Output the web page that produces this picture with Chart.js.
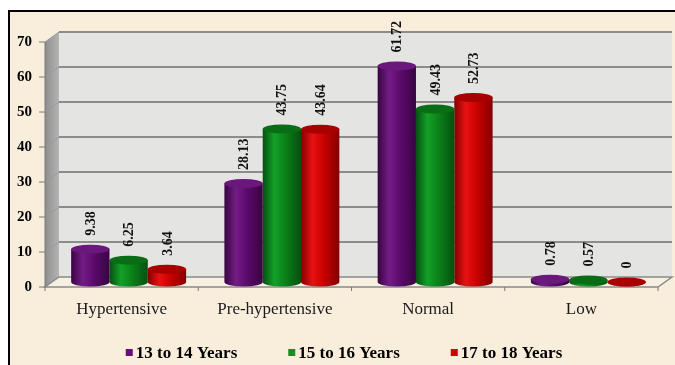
<!DOCTYPE html>
<html>
<head>
<meta charset="utf-8">
<script src="https://cdn.jsdelivr.net/npm/chart.js@4.4.1/dist/chart.umd.min.js"></script>
<style>
  html, body { margin: 0; padding: 0; background: #fff; }
  #wrap { width: 675px; height: 365px; }
</style>
</head>
<body>
<div id="wrap"><canvas id="bpChart" width="675" height="365"></canvas></div>
<script>
// categories and series
const categories = ['Hypertensive', 'Pre-hypertensive', 'Normal', 'Low'];
const seriesNames = ['13 to 14 Years', '15 to 16 Years', '17 to 18 Years'];
const age13to14 = [9.38, 28.13, 61.72, 0.78];
const age15to16 = [6.25, 43.75, 49.43, 0.57];
const age17to18 = [3.64, 43.64, 52.73, 0];

// colours: base, light, dark, top
const palettes = [
  { base: '#5a0a6a', light: '#741c86', dark: '#380442', top: '#6a187c', legend: '#6a0c7c' },
  { base: '#0a8018', light: '#14a028', dark: '#055010', top: '#0a6c14', legend: '#129024' },
  { base: '#c80000', light: '#e81212', dark: '#840000', top: '#a80000', legend: '#d20000' }
];

// 3D depth offset of the back wall
const DX = 14, DY = -10;

const ctx = document.getElementById('bpChart').getContext('2d');

// background, walls, floor and gridlines
const backdrop = {
  id: 'backdrop',
  beforeDraw(chart) {
    const c = chart.ctx, a = chart.chartArea, ys = chart.scales.y;
    const W = chart.width, H = chart.height;
    c.save();
    c.fillStyle = '#fff';
    c.fillRect(0, 0, W, H);
    c.fillStyle = '#f8eedb';
    c.fillRect(10, 12, W - 10, H - 12);
    c.strokeStyle = '#000';
    c.lineWidth = 2;
    c.beginPath();
    c.moveTo(9, H); c.lineTo(9, 11); c.lineTo(W, 11);
    c.stroke();

    // back wall
    c.fillStyle = '#e4e4e2';
    c.fillRect(a.left + DX, a.top + DY, a.right - a.left, a.bottom - a.top);

    // side wall
    const sg = c.createLinearGradient(a.left, 0, a.left + DX, 0);
    sg.addColorStop(0, '#8e8e8e');
    sg.addColorStop(1, '#b4b4b4');
    c.fillStyle = sg;
    c.beginPath();
    c.moveTo(a.left, a.top);
    c.lineTo(a.left + DX, a.top + DY);
    c.lineTo(a.left + DX, a.bottom + DY);
    c.lineTo(a.left, a.bottom);
    c.closePath();
    c.fill();

    // floor
    c.fillStyle = '#f7efdf';
    c.strokeStyle = '#8a8a8a';
    c.lineWidth = 1.5;
    c.beginPath();
    c.moveTo(a.left, a.bottom);
    c.lineTo(a.right, a.bottom);
    c.lineTo(a.right + DX, a.bottom + DY);
    c.lineTo(a.left + DX, a.bottom + DY);
    c.closePath();
    c.fill();
    c.stroke();

    // gridlines on the back wall
    ys.ticks.forEach(t => {
      if (t.value === 0) return;
      const py = ys.getPixelForValue(t.value);
      c.strokeStyle = '#8c8c8c';
      c.lineWidth = 2;
      c.beginPath();
      c.moveTo(a.left + DX, py + DY);
      c.lineTo(a.right + DX, py + DY);
      c.stroke();
      c.lineWidth = 1;
      c.strokeStyle = '#9a9a9a';
      c.beginPath();
      c.moveTo(a.left, py);
      c.lineTo(a.left + DX, py + DY);
      c.stroke();
    });

    // y axis line and ticks
    c.strokeStyle = '#7a7a7a';
    c.lineWidth = 1;
    c.beginPath();
    c.moveTo(a.left, a.top);
    c.lineTo(a.left, a.bottom);
    ys.ticks.forEach(t => {
      const py = ys.getPixelForValue(t.value);
      c.moveTo(a.left - 6, py);
      c.lineTo(a.left, py);
    });
    // x ticks at category boundaries
    const step = (a.right - a.left) / categories.length;
    for (let i = 0; i <= categories.length; i++) {
      const px = a.left + i * step;
      c.moveTo(px, a.bottom);
      c.lineTo(px, a.bottom + 4);
    }
    c.stroke();
    c.restore();
  }
};

function drawCylinder(c, cx, top, bottom, w, p) {
  const rx = w / 2, ry = 4.5;
  const g = c.createLinearGradient(cx - rx, 0, cx + rx, 0);
  g.addColorStop(0, p.dark);
  g.addColorStop(0.3, p.light);
  g.addColorStop(0.6, p.base);
  g.addColorStop(1, p.dark);
  c.fillStyle = g;
  c.beginPath();
  c.moveTo(cx - rx, top);
  c.lineTo(cx - rx, bottom);
  c.ellipse(cx, bottom, rx, ry, 0, Math.PI, 0, true);
  c.lineTo(cx + rx, top);
  c.closePath();
  c.fill();
  c.fillStyle = p.top;
  c.beginPath();
  c.ellipse(cx, top, rx, ry, 0, 0, Math.PI * 2);
  c.fill();
}

// draw each bar as a cylinder at half depth
const cylinders = {
  id: 'cylinders',
  beforeDatasetDraw(chart, args) {
    const c = chart.ctx;
    const p = palettes[args.index];
    c.save();
    args.meta.data.forEach(el => {
      const cx = el.x + DX / 2;
      drawCylinder(c, cx, el.y + DY / 2, el.base + DY / 2, el.width, p);
    });
    c.restore();
    return false;
  },
  afterDatasetsDraw(chart) {
    const c = chart.ctx;
    c.save();
    c.fillStyle = '#111';
    c.font = 'bold 14px "Liberation Serif"';
    c.textAlign = 'left';
    c.textBaseline = 'middle';
    chart.data.datasets.forEach((ds, i) => {
      chart.getDatasetMeta(i).data.forEach((el, j) => {
        const x = el.x + DX / 2 + 1;
        const y = el.y + DY / 2 - 4.5 - 9;
        c.save();
        c.translate(x, y);
        c.rotate(-Math.PI / 2);
        c.fillText(String(ds.data[j]), 0, 0);
        c.restore();
      });
    });
    c.restore();
  }
};

// legend along the bottom
const bottomLegend = {
  id: 'bottomLegend',
  afterDraw(chart) {
    const c = chart.ctx;
    c.save();
    c.font = 'bold 17px "Liberation Serif"';
    c.textBaseline = 'alphabetic';
    const box = 7, gapText = 3, gapItem = 51;
    const widths = chart.data.datasets.map(ds => c.measureText(ds.label).width);
    const total = widths.reduce((s, w) => s + box + gapText + w, 0) + gapItem * (widths.length - 1);
    let x = 344 - total / 2;
    const base = 358;
    chart.data.datasets.forEach((ds, i) => {
      c.fillStyle = palettes[i].legend;
      c.fillRect(x, base - 9, box, box);
      x += box + gapText;
      c.fillStyle = '#000';
      c.fillText(ds.label, x, base);
      x += widths[i] + gapItem;
    });
    c.restore();
  }
};

const bpChart = new Chart(ctx, {
  type: 'bar',
  data: {
    labels: categories,
    datasets: [
      { label: seriesNames[0], data: age13to14, backgroundColor: palettes[0].base },
      { label: seriesNames[1], data: age15to16, backgroundColor: palettes[1].base },
      { label: seriesNames[2], data: age17to18, backgroundColor: palettes[2].base }
    ]
  },
  options: {
    responsive: false,
    animation: false,
    categoryPercentage: 0.75,
    barPercentage: 1,
    layout: { padding: { top: 42, right: 17, bottom: 36, left: 0 } },
    scales: {
      x: {
        grid: { display: false },
        border: { display: false },
        ticks: { font: { family: 'Liberation Serif', size: 17 }, color: '#1a1a1a', padding: 4 },
        afterFit(s) { s.height = 42; }
      },
      y: {
        min: 0,
        max: 70,
        grid: { display: false },
        border: { display: false },
        ticks: { stepSize: 10, font: { family: 'Liberation Serif', size: 15, weight: 'bold' }, color: '#000', padding: 5 },
        afterFit(s) { s.width = 45; }
      }
    },
    plugins: {
      legend: { display: false },
      tooltip: { enabled: false }
    }
  },
  plugins: [backdrop, cylinders, bottomLegend]
});
</script>
</body>
</html>
